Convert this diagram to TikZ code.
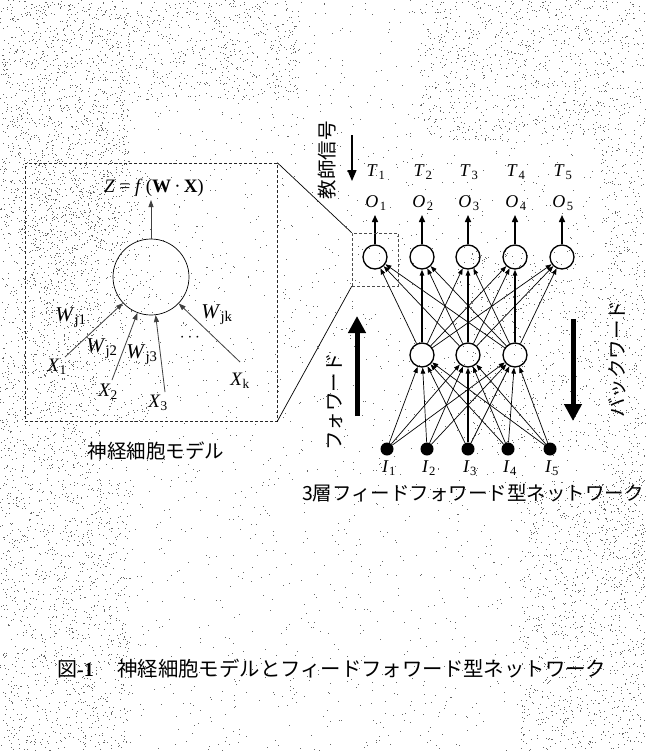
\documentclass[tikz,border=0pt]{standalone}
\usepackage{fontspec}
\setmainfont{Liberation Serif}
\newfontfamily\jp{Noto Sans CJK JP}
\usetikzlibrary{arrows.meta}
\newcommand\speckzone[5]{% x0 y0 w h count
  \foreach \i in {1,...,#5}{
    \pgfmathsetmacro\rx{#1+rnd*#3}\pgfmathsetmacro\ry{#2+rnd*#4}
    \fill[black!60] (\rx,\ry) rectangle ++(1,1);
  }}
\begin{document}
\begin{tikzpicture}[x=1bp,y=-1bp,
  neuron/.style={circle,draw,line width=1.3bp,minimum size=24bp,inner sep=0pt},
  inp/.style={circle,fill=black,minimum size=13bp,inner sep=0pt},
  link/.style={line width=0.7bp,-{Triangle[length=6bp,width=4.5bp]}},
  thinlink/.style={line width=0.8bp,black!75,-{Triangle[length=7bp,width=5bp]}},
  outarrow/.style={line width=1.5bp,-{Triangle[length=7bp,width=6bp]}},
  fat/.style={line width=5bp,-{Triangle[length=17bp,width=17bp]}},
  jptext/.style={font=\jp\fontsize{19.5bp}{20bp}\selectfont,inner sep=0pt},
  lbl/.style={font=\fontsize{18bp}{20bp}\selectfont,inner sep=0pt},
  wlbl/.style={font=\fontsize{21bp}{23bp}\selectfont,inner sep=0pt},
  xlbl/.style={font=\fontsize{19bp}{21bp}\selectfont,inner sep=0pt},
  dashbox/.style={draw,dash pattern=on 3bp off 2bp,line width=0.6bp,inner sep=0pt},
]
\useasboundingbox (0,0) rectangle (646,751);
\fill[white] (0,0) rectangle (646,751);

% scan speckle
\begin{scope}
\pgfmathsetseed{7}
\speckzone{0}{0}{645}{750}{2500}
\speckzone{0}{0}{130}{250}{1500}
\speckzone{0}{250}{100}{230}{700}
\speckzone{130}{0}{170}{100}{500}
\speckzone{420}{0}{225}{140}{900}
\speckzone{600}{140}{45}{450}{600}
\speckzone{30}{170}{120}{250}{600}
\speckzone{470}{250}{130}{200}{500}
\speckzone{0}{480}{130}{270}{1100}
\speckzone{520}{480}{125}{270}{1000}
\end{scope}

% ---------- neuron model ----------
\node[dashbox,black!85,minimum width=252bp,minimum height=258bp] (bigbox) at (151,292) {};
\node[circle,draw,line width=0.7bp,minimum size=76bp,inner sep=0pt] (cell) at (151,277) {};
\node[font=\fontsize{19bp}{21bp}\selectfont,inner sep=0pt] (zf) at (154,188)
  {\textit{Z} = \textit{f}\,(\textbf{W}\,·\,\textbf{X})};
\coordinate (ztip) at (151,200);
\draw[thinlink] (cell) -- (ztip);

\coordinate (x1s) at (65,357);
\coordinate (x2s) at (112,380);
\coordinate (x3s) at (165,392);
\coordinate (xks) at (240,362);
\draw[thinlink] (x1s) -- (cell);
\draw[thinlink] (x2s) -- (cell);
\draw[thinlink] (x3s) -- (cell);
\draw[thinlink] (xks) -- (cell);

\node[xlbl] (x1) at (57,367) {\textit{X}\textsubscript{1}};
\node[xlbl] (x2) at (108,392) {\textit{X}\textsubscript{2}};
\node[xlbl] (x3) at (158,403) {\textit{X}\textsubscript{3}};
\node[xlbl] (xk) at (240,381) {\textit{X}\textsubscript{k}};
\node[wlbl] (w1) at (71,318) {\textit{W}\textsubscript{j1}};
\node[wlbl] (w2) at (102,349) {\textit{W}\textsubscript{j2}};
\node[wlbl] (w3) at (142,355) {\textit{W}\textsubscript{j3}};
\node[wlbl] (wk) at (217,315) {\textit{W}\textsubscript{jk}};
\node[inner sep=0pt,font=\fontsize{18bp}{20bp}\selectfont] (dots) at (190,338) {$\cdots$};

\node[jptext] (modellbl) at (156,451) {神経細胞モデル};

% ---------- network ----------
\foreach \x [count=\i] in {375,422,468,515,562}{
  \node[neuron] (o\i) at (\x,257) {};
  \coordinate (ot\i) at (\x,215);
  \node[lbl] (olbl\i) at (\x+1,203) {\textit{O}\kern1.5bp\textsubscript{\i}};
  \node[lbl] (tlbl\i) at (\x+1,172) {\textit{T}\kern1bp\textsubscript{\i}};
}
\foreach \x [count=\i] in {422,468,515}{
  \node[neuron] (h\i) at (\x,355) {};
}
\foreach \x [count=\i] in {387,427,468,508,550}{
  \node[inp] (i\i) at (\x,449) {};
  \node[lbl] (ilbl\i) at (\x+2,468) {\textit{I}\kern0.5bp\textsubscript{\i}};
}
\foreach \h in {1,2,3}{
  \foreach \o in {1,...,5}{
    \pgfmathtruncatemacro\vv{\o==\h+1}
    \ifnum\vv=1 \def\lw{1.4bp}\else\def\lw{0.7bp}\fi
    \draw[link,line width=\lw] (h\h) -- (o\o);
  }
}
\foreach \i in {1,...,5}{
  \foreach \h in {1,2,3}{
    \pgfmathtruncatemacro\vv{(\i==3)&&(\h==2)}
    \ifnum\vv=1 \def\lw{1.4bp}\else\def\lw{0.7bp}\fi
    \draw[link,line width=\lw] (i\i) -- (h\h);
  }
}
\foreach \i in {1,...,5}{
  \draw[outarrow] (o\i) -- (ot\i);
}

% zoom box and connecting lines
\node[dashbox,black!70,minimum width=46bp,minimum height=53bp] (zoombox) at (375,259.5) {};
\draw[line width=0.7bp] (bigbox.north east) -- (zoombox.north west);
\draw[line width=0.7bp] (bigbox.south east) -- (zoombox.south west);

% teacher signal
\node[jptext,rotate=90] (teach) at (327,160) {教師信号};
\coordinate (tsA) at (352,135);
\coordinate (tsB) at (352,181);
\draw[line width=1.3bp,-{Triangle[length=11bp,width=9bp]}] (tsA) -- (tsB);

% forward / backward
\node[jptext,rotate=90] (fwdlbl) at (335,402) {フォワード};
\coordinate (fwdS) at (357,416);
\coordinate (fwdE) at (357,316);
\draw[fat] (fwdS) -- (fwdE);
\node[jptext,rotate=90] (bwdlbl) at (617,359) {バックワード};
\coordinate (bwdS) at (573,319);
\coordinate (bwdE) at (573,421);
\draw[fat] (bwdS) -- (bwdE);

\node[jptext] (netlbl) at (473,493) {3層フィードフォワード型ネットワーク};

% caption
\node[inner sep=0pt,anchor=west] (capnum) at (57,669)
  {{\jp\fontsize{20bp}{21bp}\selectfont 図}{\fontsize{20bp}{21bp}\selectfont\bfseries -1}};
\node[inner sep=0pt,anchor=west,font=\jp\fontsize{20.4bp}{21bp}\selectfont] (cap) at (117,669)
  {神経細胞モデルとフィードフォワード型ネットワーク};
\end{tikzpicture}
\end{document}
